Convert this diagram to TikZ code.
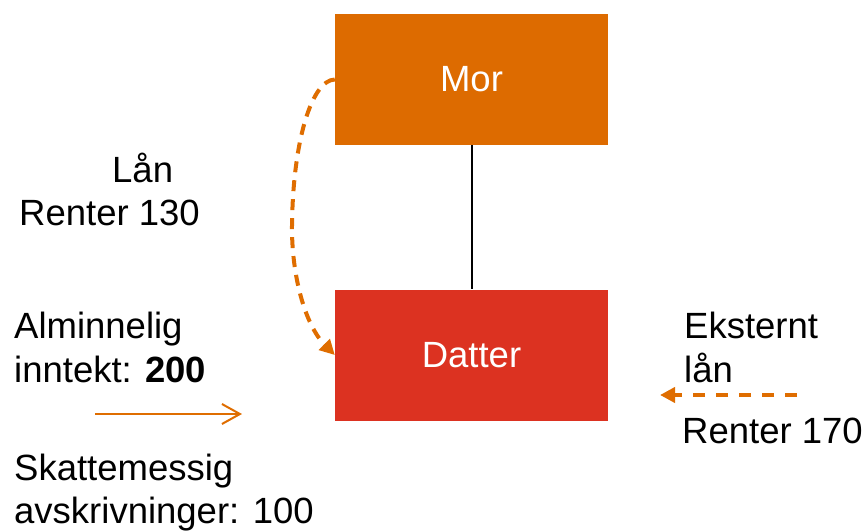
\documentclass[tikz,border=0pt]{standalone}
\usepackage{fontspec}
\setmainfont{Liberation Sans}
\usetikzlibrary{arrows.meta}
\definecolor{morc}{HTML}{DD6B00}
\definecolor{datc}{HTML}{DC3221}
\definecolor{arrc}{HTML}{DF6D00}
\begin{document}
\begin{tikzpicture}[x=1pt,y=-1pt,
  lbl/.style={anchor=base west, inner sep=0pt, font=\fontsize{36.5}{43}\selectfont},
  box/.style={minimum width=273pt, minimum height=131pt, inner sep=0pt, text=white, font=\fontsize{36.5}{43}\selectfont},
  dasharrow/.style={draw=arrc, line width=4pt, -{Triangle[length=15pt,width=15pt]}}]
\useasboundingbox (0,0) rectangle (868,531);
\node[box, fill=morc] (mor) at (471.5,79.5) {Mor};
\node[box, fill=datc] (dat) at (471.5,355) {Datter};
\draw[line width=2pt] (mor.south) -- (dat.north);
\draw[dasharrow, dash pattern=on 11pt off 8pt] (mor.west) .. controls (312,80) and (293,140) .. (292,225) .. controls (291.4,275) and (305,325) .. (dat.west);
\coordinate (exA) at (797,395);
\coordinate (exB) at (660,395);
\draw[dasharrow, dash pattern=on 12pt off 11pt] (exA) -- (exB);
\coordinate (inA) at (95,414);
\coordinate (inB) at (242,414);
\draw[arrc, line width=2pt, -{Straight Barb[length=18pt,width=20pt]}] (inA) -- (inB);
\node[lbl] (lan) at (112,182) {Lån};
\node[lbl] (r130) at (19,225) {Renter 130};
\node[lbl] (alm) at (14,338) {Alminnelig};
\node[lbl] (inn) at (14,382) {inntekt: \textbf{200}};
\node[lbl] (skat) at (14,480) {Skattemessig};
\node[lbl] (avsk) at (14,523) {avskrivninger: 100};
\node[lbl] (eks) at (684,338) {Eksternt};
\node[lbl] (elan) at (684,382) {lån};
\node[lbl] (r170) at (682,443) {Renter 170};
\end{tikzpicture}
\end{document}
